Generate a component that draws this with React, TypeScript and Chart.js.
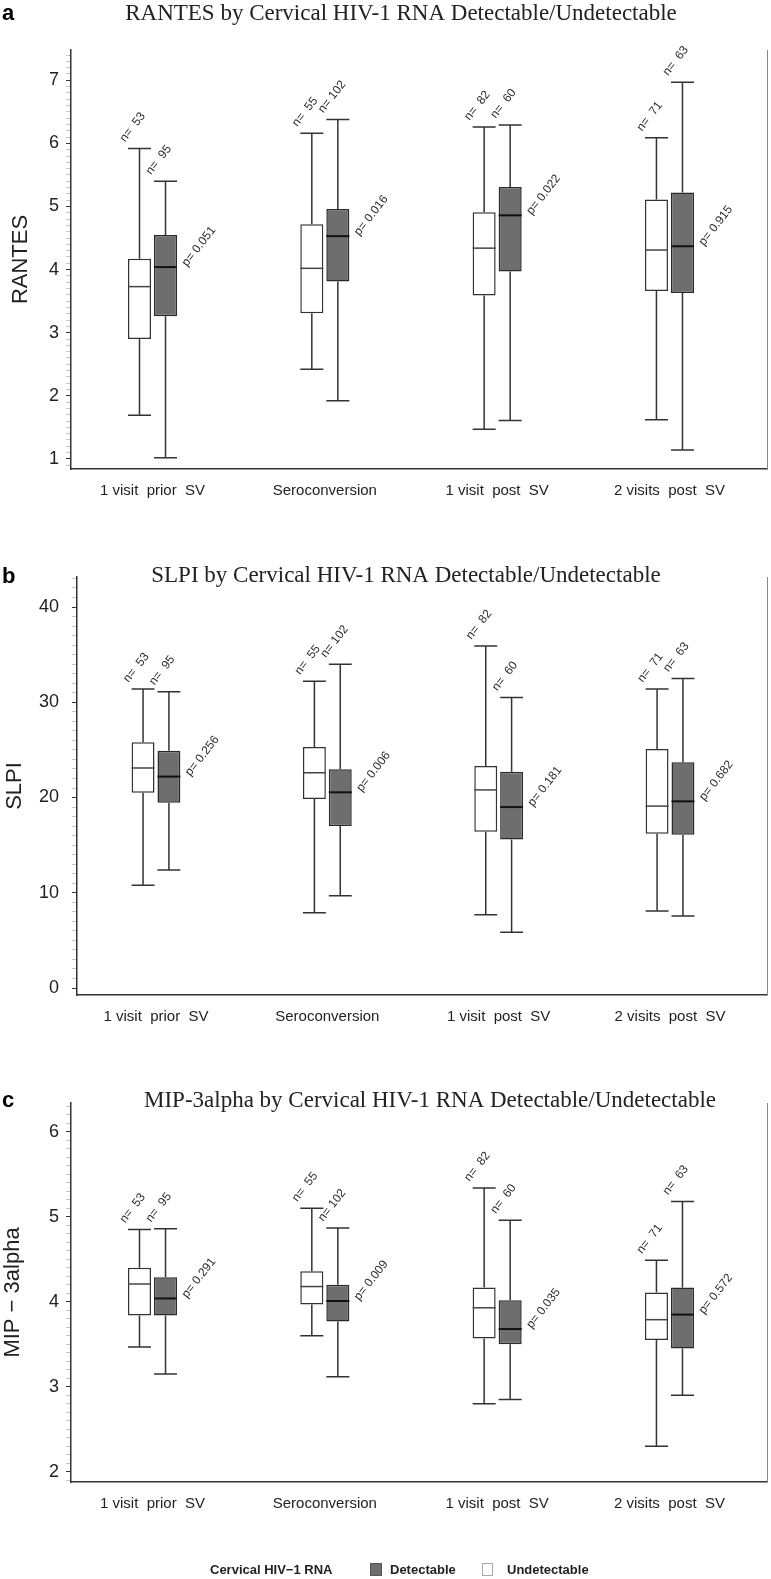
import React, { useEffect, useRef } from 'react';
import { Chart, registerables } from 'chart.js';

Chart.register(...registerables);

// ---------------- DATA ----------------
const categories = ['1 visit  prior  SV', 'Seroconversion', '1 visit  post  SV', '2 visits  post  SV'];
const groupNames = ['Undetectable', 'Detectable'];
const nUndetectable = [53, 55, 82, 71];
const nDetectable = [95, 102, 60, 63];

// each entry: [min, q1, median, q3, max]
const rantesUndetectable = [
  [1.69, 2.9, 3.73, 4.17, 5.92],
  [2.42, 3.31, 4.02, 4.72, 6.16],
  [1.47, 3.59, 4.34, 4.91, 6.26],
  [1.62, 3.66, 4.31, 5.11, 6.09],
];
const rantesDetectable = [
  [1.02, 3.26, 4.04, 4.55, 5.4],
  [1.92, 3.81, 4.53, 4.96, 6.38],
  [1.61, 3.97, 4.86, 5.31, 6.29],
  [1.14, 3.63, 4.37, 5.22, 6.97],
];
const rantesP = ['0.051', '0.016', '0.022', '0.915'];

const slpiUndetectable = [
  [10.8, 20.5, 23.1, 25.8, 31.4],
  [7.9, 19.85, 22.6, 25.3, 32.2],
  [7.7, 16.4, 20.8, 23.3, 35.9],
  [8.1, 16.2, 19.1, 25.1, 31.4],
];
const slpiDetectable = [
  [12.4, 19.45, 22.2, 24.9, 31.1],
  [9.7, 17.0, 20.55, 22.96, 34.0],
  [5.85, 15.6, 19.0, 22.7, 30.5],
  [7.55, 16.1, 19.6, 23.7, 32.5],
];
const slpiP = ['0.256', '0.006', '0.181', '0.682'];

const mipUndetectable = [
  [3.47, 3.84, 4.21, 4.4, 4.85],
  [3.6, 3.97, 4.18, 4.36, 5.1],
  [2.8, 3.57, 3.93, 4.17, 5.34],
  [2.3, 3.55, 3.79, 4.11, 4.49],
];
const mipDetectable = [
  [3.15, 3.84, 4.04, 4.29, 4.86],
  [3.12, 3.77, 4.01, 4.2, 4.87],
  [2.85, 3.5, 3.68, 4.02, 4.96],
  [2.9, 3.45, 3.85, 4.17, 5.18],
];
const mipP = ['0.291', '0.009', '0.035', '0.572'];

// axis ranges / tick steps
const rantesAxis = { min: 0.84, max: 7.48, minor: 0.1, major: 1 };
const slpiAxis = { min: -0.73, max: 43.15, minor: 1, major: 10 };
const mipAxis = { min: 1.88, max: 6.34, minor: 0.1, major: 1 };

// ---------------- STYLE ----------------
const SANS = '"Liberation Sans", Arial, Helvetica, sans-serif';
const SERIF = '"Liberation Serif", "Times New Roman", Times, serif';
const DARK_FILL = '#6e6e6e';
const ROT = (-52 * Math.PI) / 180;

const panels = [
  {
    letter: 'a',
    title: 'RANTES by Cervical HIV-1 RNA Detectable/Undetectable',
    yLabel: 'RANTES',
    und: rantesUndetectable,
    det: rantesDetectable,
    p: rantesP,
    axis: rantesAxis,
    style: { top: 0, height: 520, areaTop: 50, areaBottom: 469, areaLeft: 71, xMin: -0.473, xMax: 3.566, titleX: 401, titleY: 20, letterY: 20, tickPad: 7, axisTitlePad: 8, legend: false },
  },
  {
    letter: 'b',
    title: 'SLPI by Cervical HIV-1 RNA Detectable/Undetectable',
    yLabel: 'SLPI',
    und: slpiUndetectable,
    det: slpiDetectable,
    p: slpiP,
    axis: slpiAxis,
    style: { top: 530, height: 520, areaTop: 577, areaBottom: 995, areaLeft: 77, xMin: -0.461, xMax: 3.566, titleX: 406, titleY: 582, letterY: 583, tickPad: 13, axisTitlePad: 2, legend: false },
  },
  {
    letter: 'c',
    title: 'MIP-3alpha by Cervical HIV-1 RNA Detectable/Undetectable',
    yLabel: 'MIP − 3alpha',
    und: mipUndetectable,
    det: mipDetectable,
    p: mipP,
    axis: mipAxis,
    style: { top: 1055, height: 524, areaTop: 1103, areaBottom: 1482, areaLeft: 71, xMin: -0.473, xMax: 3.566, titleX: 430, titleY: 1107, letterY: 1107, tickPad: 7, axisTitlePad: 0, legend: true },
  },
];

function drawRotated(ctx: CanvasRenderingContext2D, text: string, x: number, y: number) {
  ctx.save();
  ctx.translate(x, y);
  ctx.rotate(ROT);
  ctx.textAlign = 'left';
  ctx.textBaseline = 'alphabetic';
  ctx.fillText(text, 0, 0);
  ctx.restore();
}

function extrasPlugin(cfg: any) {
  const stats = [cfg.und, cfg.det];
  const counts = [nUndetectable, nDetectable];
  const s = cfg.style;
  return {
    id: 'boxExtras',
    afterDatasetsDraw(chart: any) {
      const ctx: CanvasRenderingContext2D = chart.ctx;
      const ys = chart.scales.y;
      ctx.save();
      stats.forEach((series: number[][], di: number) => {
        const meta = chart.getDatasetMeta(di);
        series.forEach((st: number[], j: number) => {
          const bar = meta.data[j];
          const x = bar.x;
          const w = bar.width;
          const l = x - w / 2;
          const r = x + w / 2;
          const [mn, q1, md, q3, mx] = st.map((v) => ys.getPixelForValue(v));
          ctx.strokeStyle = '#333';
          ctx.lineWidth = 1.5;
          ctx.beginPath();
          ctx.moveTo(x, q3);
          ctx.lineTo(x, mx);
          ctx.moveTo(l, mx);
          ctx.lineTo(r, mx);
          ctx.moveTo(x, q1);
          ctx.lineTo(x, mn);
          ctx.moveTo(l, mn);
          ctx.lineTo(r, mn);
          ctx.stroke();
          ctx.strokeStyle = di === 1 ? '#111' : '#444';
          ctx.lineWidth = di === 1 ? 2 : 1.5;
          ctx.beginPath();
          ctx.moveTo(l, md);
          ctx.lineTo(r, md);
          ctx.stroke();
          ctx.fillStyle = '#2a2a2a';
          ctx.font = `12px ${SANS}`;
          drawRotated(ctx, 'n= ' + String(counts[di][j]).padStart(3, ' '), l - 3, mx - 6);
          if (di === 1) drawRotated(ctx, 'p= ' + cfg.p[j], r + 10, md);
        });
      });
      ctx.restore();
    },
    afterDraw(chart: any) {
      const ctx: CanvasRenderingContext2D = chart.ctx;
      const a = chart.chartArea;
      ctx.save();
      // right frame line
      ctx.strokeStyle = '#888';
      ctx.lineWidth = 1;
      ctx.beginPath();
      ctx.moveTo(a.right + 0.5, a.top);
      ctx.lineTo(a.right + 0.5, a.bottom);
      ctx.stroke();
      // title
      ctx.fillStyle = '#222';
      ctx.font = `23px ${SERIF}`;
      ctx.textAlign = 'center';
      ctx.textBaseline = 'alphabetic';
      ctx.fillText(cfg.title, s.titleX, s.titleY - s.top);
      // panel letter
      ctx.fillStyle = '#000';
      ctx.font = `bold 22px ${SANS}`;
      ctx.textAlign = 'left';
      ctx.fillText(cfg.letter, 2, s.letterY - s.top);
      // legend
      if (s.legend) {
        const base = 1574 - s.top;
        ctx.font = `bold 13px ${SANS}`;
        ctx.fillStyle = '#222';
        ctx.fillText('Cervical HIV−1 RNA', 210, base);
        const ds = chart.data.datasets;
        ctx.fillStyle = ds[1].backgroundColor;
        ctx.fillRect(370, base - 11, 12, 13);
        ctx.strokeStyle = '#555';
        ctx.lineWidth = 1;
        ctx.strokeRect(370.5, base - 10.5, 11, 12);
        ctx.fillStyle = '#222';
        ctx.fillText(ds[1].label, 390, base);
        ctx.fillStyle = ds[0].backgroundColor;
        ctx.fillRect(482, base - 11, 11, 13);
        ctx.strokeStyle = '#aaa';
        ctx.strokeRect(482.5, base - 10.5, 10, 12);
        ctx.fillStyle = '#222';
        ctx.fillText(ds[0].label, 507, base);
      }
      ctx.restore();
    },
  };
}

function Panel({ cfg }: { cfg: any }) {
  const ref = useRef<HTMLCanvasElement>(null);
  const s = cfg.style;
  useEffect(() => {
    if (!ref.current) return;
    const ax = cfg.axis;
    const isMajor = (v: number) => Math.abs(v / ax.major - Math.round(v / ax.major)) < 1e-6;
    const chart = new Chart(ref.current, {
      type: 'bar',
      data: {
        datasets: [
          {
            label: groupNames[0],
            data: cfg.und.map((v: number[], i: number) => ({ x: i, y: [v[1], v[3]] })),
            backgroundColor: '#ffffff',
            borderColor: '#333333',
            borderWidth: 1.5,
            borderSkipped: false,
            categoryPercentage: 0.302,
            barPercentage: 0.885,
          },
          {
            label: groupNames[1],
            data: cfg.det.map((v: number[], i: number) => ({ x: i, y: [v[1], v[3]] })),
            backgroundColor: DARK_FILL,
            borderColor: '#2a2a2a',
            borderWidth: 1.5,
            borderSkipped: false,
            categoryPercentage: 0.302,
            barPercentage: 0.885,
          },
        ],
      } as any,
      options: {
        responsive: false,
        animation: false,
        devicePixelRatio: 1,
        events: [],
        layout: {
          padding: {
            top: s.areaTop - s.top,
            bottom: s.height - (s.areaBottom - s.top) - 40,
            left: 0,
            right: 4,
          },
        },
        scales: {
          x: {
            type: 'linear',
            min: s.xMin,
            max: s.xMax,
            offset: false,
            afterBuildTicks: (sc: any) => {
              sc.ticks = categories.map((_, i) => ({ value: i }));
            },
            afterFit: (sc: any) => {
              sc.height = 40;
            },
            ticks: {
              autoSkip: false,
              maxRotation: 0,
              padding: 13,
              color: '#222',
              font: { family: SANS, size: 15 },
              callback: (_v: any, i: number) => categories[i],
            },
            grid: { display: false, drawTicks: false },
            border: { display: true, color: '#333', width: 1.5 },
          },
          y: {
            type: 'linear',
            min: ax.min,
            max: ax.max,
            afterBuildTicks: (sc: any) => {
              const t: any[] = [];
              for (let k = Math.ceil(ax.min / ax.minor - 1e-9); k * ax.minor <= ax.max + 1e-9; k++) {
                t.push({ value: +(k * ax.minor).toFixed(6) });
              }
              sc.ticks = t;
            },
            afterFit: (sc: any) => {
              sc.width = s.areaLeft;
            },
            ticks: {
              autoSkip: false,
              padding: s.tickPad,
              color: '#222',
              font: { family: SANS, size: 18 },
              callback: (v: any) => (isMajor(v) ? String(Math.round(v)) : ''),
            },
            grid: {
              display: true,
              drawOnChartArea: false,
              drawTicks: true,
              tickLength: 5,
              tickColor: (c: any) => (c.tick && isMajor(c.tick.value) ? '#333' : '#c4c4c4'),
              tickWidth: 1,
            },
            border: { display: true, color: '#333', width: 1.5 },
            title: {
              display: true,
              text: cfg.yLabel,
              color: '#222',
              font: { family: SANS, size: 22 },
              padding: { top: s.axisTitlePad, bottom: 0 },
            },
          },
        },
        plugins: {
          legend: { display: false },
          tooltip: { enabled: false },
        },
      } as any,
      plugins: [extrasPlugin(cfg)],
    });
    return () => chart.destroy();
  }, []);
  return (
    <canvas
      ref={ref}
      width={771}
      height={s.height}
      style={{ position: 'absolute', left: 0, top: s.top, display: 'block' }}
    />
  );
}

export default function App() {
  return (
    <div style={{ position: 'absolute', left: 0, top: 0, width: 771, height: 1579, background: '#fff', overflow: 'hidden' }}>
      {panels.map((p) => (
        <Panel key={p.letter} cfg={p} />
      ))}
    </div>
  );
}
